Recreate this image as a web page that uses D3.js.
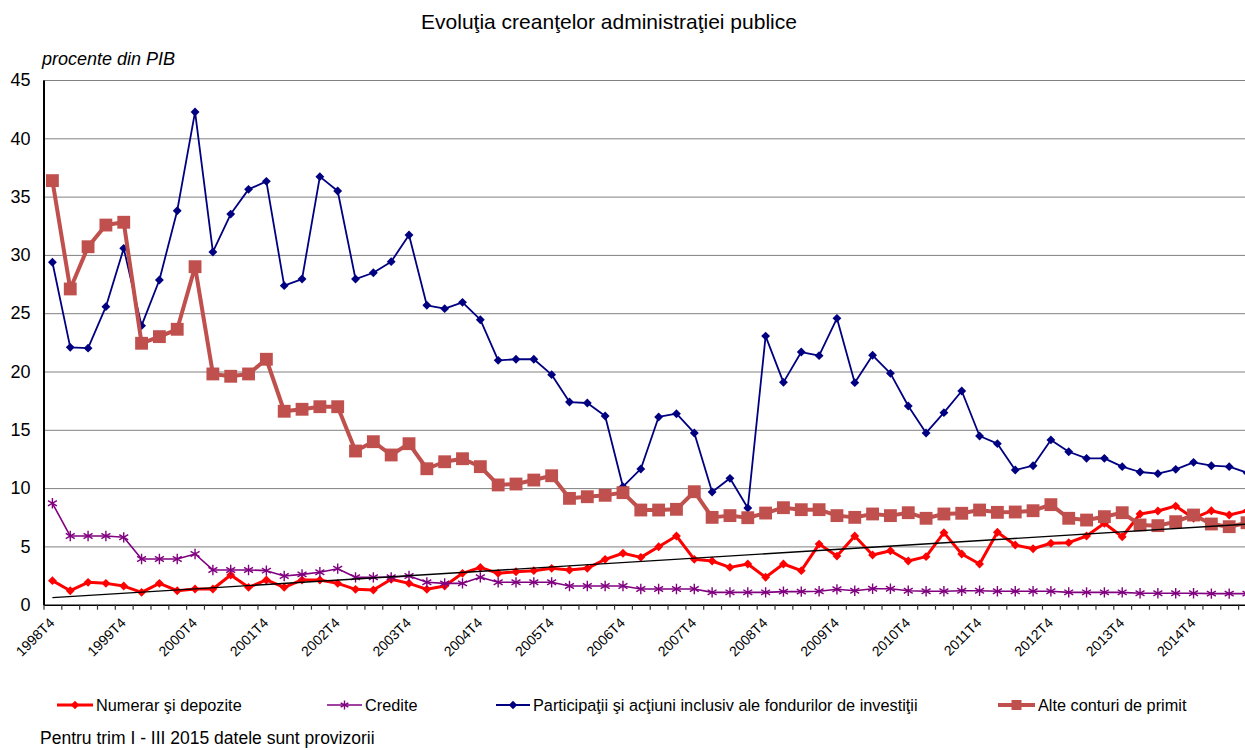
<!DOCTYPE html>
<html>
<head>
<meta charset="utf-8">
<script src="https://cdn.jsdelivr.net/npm/d3@7"></script>
<style>
  body { margin: 0; background: #fff; }
  svg { display: block; font-family: "Liberation Sans", Arial, sans-serif; }
  .grid line { stroke: #000; stroke-dasharray: 1,1; stroke-width: 1; }
  .grid path { display: none; }
</style>
</head>
<body>
<div id="chart"></div>
<script>
var svgWidth = 1245;
var svgHeight = 750;

// quarters 1998T4 .. 2015T3
var quarters = ["1998T4"];
for (var yr = 1999; yr <= 2015; yr++) {
    for (var q = 1; q <= 4; q++) {
        if (yr === 2015 && q > 3) break;
        quarters.push(yr + "T" + q);
    }
}
var tickLabels = ["1998T4", "1999T4", "2000T4", "2001T4", "2002T4", "2003T4", "2004T4", "2005T4",
    "2006T4", "2007T4", "2008T4", "2009T4", "2010T4", "2011T4", "2012T4", "2013T4", "2014T4"];
var yTicks = [0, 5, 10, 15, 20, 25, 30, 35, 40, 45];

var numerar = [2.06, 1.2, 1.92, 1.83, 1.6, 1.06, 1.83, 1.2, 1.35, 1.35, 2.55, 1.49, 2.12, 1.49, 2.12, 2.12,
    1.83, 1.32, 1.26, 2.18, 1.83, 1.32, 1.6, 2.69, 3.2, 2.69, 2.83, 2.92, 3.12, 2.98, 3.12, 3.89,
    4.41, 4.06, 4.97, 5.89, 3.89, 3.75, 3.2, 3.49, 2.35, 3.49, 2.92, 5.2, 4.17, 5.89, 4.26, 4.63,
    3.75, 4.12, 6.18, 4.35, 3.49, 6.21, 5.12, 4.8, 5.27, 5.32, 5.89, 6.98, 5.83, 7.78, 8.04, 8.46,
    7.41, 8.06, 7.69, 8.06];

var credite = [8.7, 5.89, 5.89, 5.89, 5.78, 3.92, 3.92, 3.92, 4.35, 2.98, 2.98, 2.98, 2.92, 2.46, 2.6, 2.78,
    3.09, 2.35, 2.35, 2.35, 2.46, 1.92, 1.83, 1.83, 2.35, 1.92, 1.92, 1.92, 1.92, 1.6, 1.6, 1.6,
    1.6, 1.35, 1.35, 1.35, 1.35, 1.06, 1.06, 1.06, 1.06, 1.12, 1.12, 1.15, 1.32, 1.2, 1.37, 1.37,
    1.2, 1.15, 1.15, 1.2, 1.2, 1.15, 1.15, 1.15, 1.15, 1.06, 1.06, 1.06, 1.06, 0.98, 0.98, 0.98,
    0.98, 0.95, 0.95, 0.95];

var participatii = [29.37, 22.07, 22.0, 25.56, 30.56, 23.93, 27.85, 33.79, 42.26, 30.25, 33.5, 35.62, 36.31, 27.36, 27.93, 36.71,
    35.48, 27.93, 28.47, 29.42, 31.71, 25.68, 25.39, 25.93, 24.44, 20.96, 21.05, 21.05, 19.73, 17.38, 17.3, 16.18,
    10.12, 11.64, 16.1, 16.38, 14.73, 9.67, 10.84, 8.29, 23.04, 19.07, 21.67, 21.36, 24.56, 19.04, 21.39, 19.84,
    17.04, 14.73, 16.47, 18.33, 14.47, 13.81, 11.55, 11.92, 14.13, 13.12, 12.55, 12.55, 11.84, 11.38, 11.24, 11.61,
    12.21, 11.92, 11.84, 11.32];

var alteConturi = [36.37, 27.08, 30.7, 32.56, 32.8, 22.42, 22.99, 23.62, 28.99, 19.79, 19.59, 19.79, 21.05, 16.59, 16.76, 16.98,
    16.98, 13.18, 13.98, 12.84, 13.81, 11.66, 12.26, 12.52, 11.84, 10.27, 10.35, 10.69, 11.06, 9.12, 9.26, 9.38,
    9.61, 8.12, 8.12, 8.18, 9.69, 7.49, 7.64, 7.46, 7.86, 8.32, 8.15, 8.15, 7.64, 7.49, 7.78, 7.64,
    7.89, 7.41, 7.78, 7.84, 8.12, 7.92, 7.95, 8.06, 8.58, 7.41, 7.26, 7.55, 7.89, 6.84, 6.78, 7.12,
    7.69, 6.92, 6.69, 7.03];

var seriesNames = ["Numerar şi depozite", "Credite", "Participaţii şi acţiuni inclusiv ale fondurilor de investiţii", "Alte conturi de primit"];

var margin = { top: 80, left: 43.5 };
var step = 17.83;
var plotRight = margin.left + step * quarters.length;
var plotBottom = 604.7;

var svg = d3.select("#chart")
    .append("svg")
    .attr("width", svgWidth)
    .attr("height", svgHeight);

var x = d3.scaleBand()
    .domain(quarters)
    .range([margin.left, plotRight])
    .padding(0);

var xIdx = d3.scaleLinear()
    .domain([0, quarters.length])
    .range([margin.left, plotRight]);

var y = d3.scaleLinear()
    .domain([0, 45])
    .range([plotBottom, margin.top]);

var cx = d => x(d) + x.bandwidth() / 2;

// gridlines
svg.append("g")
    .attr("class", "grid")
    .attr("transform", `translate(${margin.left},0)`)
    .call(d3.axisRight(y).tickValues(yTicks.slice(1)).tickSize(plotRight - margin.left).tickFormat(""));

// y axis
var yAxis = svg.append("g")
    .attr("transform", `translate(${margin.left},0)`)
    .call(d3.axisLeft(y).tickValues(yTicks).tickSize(0).tickPadding(13));
yAxis.select(".domain").attr("stroke", "#000").attr("stroke-width", 2);
yAxis.selectAll("text")
    .attr("font-size", 18)
    .attr("fill", "#000")
    .attr("font-family", "Liberation Sans, Arial, sans-serif");

// x axis tick marks on category boundaries
var xAxisTicks = svg.append("g")
    .attr("transform", `translate(0,${plotBottom})`)
    .call(d3.axisBottom(xIdx).tickValues(d3.range(0, quarters.length + 1)).tickSize(5).tickFormat("").tickSizeOuter(0));
xAxisTicks.select(".domain").attr("stroke", "#000").attr("stroke-width", 1.5);
xAxisTicks.selectAll(".tick line").attr("stroke", "#333").attr("stroke-width", 1.2);

// x labels
var xLabels = svg.append("g")
    .attr("transform", `translate(0,${plotBottom})`)
    .call(d3.axisBottom(x).tickValues(tickLabels).tickSize(0));
xLabels.select(".domain").remove();
xLabels.selectAll("text")
    .attr("font-size", 14)
    .attr("fill", "#000")
    .attr("font-family", "Liberation Sans, Arial, sans-serif")
    .attr("text-anchor", "end")
    .attr("transform", "translate(3,19) rotate(-45)")
    .attr("dy", 0)
    .attr("x", 0)
    .attr("y", 0);

var diamond = d3.symbol().type(d3.symbolDiamond2);
var square = d3.symbol().type(d3.symbolSquare);
var star = d3.symbol().type(d3.symbolAsterisk);

var series = [
    { values: numerar, color: "#FF0000", width: 3, symbol: diamond.size(75), fill: true },
    { values: credite, color: "#800080", width: 1.6, symbol: star.size(75), fill: false },
    { values: participatii, color: "#000080", width: 1.8, symbol: diamond.size(50), fill: true },
    { values: alteConturi, color: "#C0504D", width: 4, symbol: square.size(165), fill: true }
];

var line = d3.line()
    .x((d, i) => cx(quarters[i]))
    .y(d => y(d));

series.forEach(function (s) {
    var path = s.symbol();
    var g = svg.append("g");
    g.append("path")
        .datum(s.values)
        .attr("fill", "none")
        .attr("stroke", s.color)
        .attr("stroke-width", s.width)
        .attr("stroke-linejoin", "round")
        .attr("d", line);
    g.selectAll(".m")
        .data(s.values)
        .enter()
        .append("path")
        .attr("transform", (d, i) => `translate(${cx(quarters[i])},${y(d)})`)
        .attr("d", path)
        .attr("fill", s.fill ? s.color : "none")
        .attr("stroke", s.color)
        .attr("stroke-width", s.fill ? 0 : 1.4);
});

// linear trend of Numerar si depozite
var n = numerar.length;
var mx = d3.mean(d3.range(n));
var my = d3.mean(numerar);
var slope = d3.sum(numerar, (v, i) => (i - mx) * (v - my)) / d3.sum(d3.range(n), i => (i - mx) * (i - mx));
var icpt = my - slope * mx;
svg.append("line")
    .attr("x1", cx(quarters[0]))
    .attr("y1", y(icpt))
    .attr("x2", cx(quarters[n - 1]))
    .attr("y2", y(icpt + slope * (n - 1)))
    .attr("stroke", "#000")
    .attr("stroke-width", 1.3);

// title and axis caption
svg.append("text")
    .attr("x", 609)
    .attr("y", 29)
    .attr("text-anchor", "middle")
    .attr("font-size", 21)
    .text("Evoluţia creanţelor administraţiei publice");

svg.append("text")
    .attr("x", 42)
    .attr("y", 65)
    .attr("font-size", 18)
    .attr("font-style", "italic")
    .text("procente din PIB");

// legend
var legendX = [57, 327, 496, 998];
var legendW = [36, 35, 34, 37];
var legendSym = [diamond.size(50), star.size(55), diamond.size(45), square.size(100)];
var legendY = 705;
series.forEach(function (s, i) {
    var g = svg.append("g").attr("transform", `translate(${legendX[i]},${legendY})`);
    g.append("line")
        .attr("x1", 0).attr("x2", legendW[i])
        .attr("stroke", s.color)
        .attr("stroke-width", s.width);
    g.append("path")
        .attr("transform", `translate(${legendW[i] / 2},0)`)
        .attr("d", legendSym[i]())
        .attr("fill", s.fill ? s.color : "none")
        .attr("stroke", s.color)
        .attr("stroke-width", s.fill ? 0 : 1.4);
    g.append("text")
        .attr("x", legendW[i] + 3)
        .attr("y", 6)
        .attr("font-size", 16.3)
        .text(seriesNames[i]);
});

svg.append("text")
    .attr("x", 40)
    .attr("y", 744)
    .attr("font-size", 17.5)
    .text("Pentru trim I - III 2015 datele sunt provizorii");
</script>
</body>
</html>
